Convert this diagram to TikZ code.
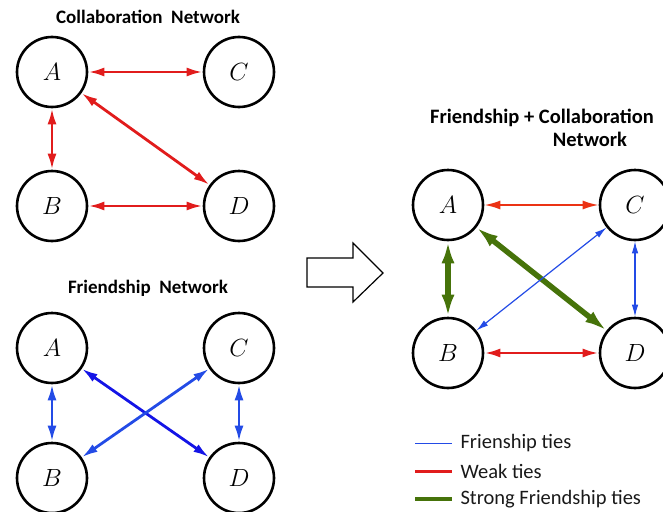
\documentclass[tikz,border=0pt]{standalone}
\usepackage{fontspec}
\setsansfont{Carlito}
\usetikzlibrary{arrows.meta}

\definecolor{weakred}{RGB}{225,28,28}
\definecolor{friendblue}{RGB}{35,75,230}
\definecolor{deepblue}{RGB}{20,20,230}
\definecolor{strongreen}{RGB}{70,115,10}

\tikzset{
  person/.style={circle, draw, line width=2.6pt, minimum size=70pt, inner sep=0pt,
    font=\fontsize{25}{29}\selectfont},
  title/.style={font=\sffamily\bfseries\fontsize{19}{22}\selectfont},
  bigtitle/.style={font=\sffamily\bfseries\fontsize{20.5}{24}\selectfont},
  legendtext/.style={anchor=west, text=black!90, font=\sffamily\fontsize{20.5}{24}\selectfont},
  weak/.style={draw=weakred, line width=2.8pt, >={Latex[length=16pt,width=9pt]}, <->},
  friend/.style={draw=friendblue, line width=2.8pt, >={Latex[length=16pt,width=9pt]}, <->},
  thinfriend/.style={draw=friendblue, line width=1.2pt, >={Latex[length=12pt,width=6.5pt]}, <->},
  strong/.style={draw=strongreen, line width=5.5pt, >={Latex[length=22pt,width=13pt]}, <->}
}

\begin{document}
\begin{tikzpicture}[x=1pt, y=-1pt]
    \useasboundingbox (0,0) rectangle (663,511);

    % Collaboration network
    \node[title] (ctitle) at (148,17) {Collaboration\ \ Network};
    \foreach \n/\x/\y in {A/52/72, C/239/72, B/52/206, D/239/206} {
        \node[person] (c\n) at (\x,\y) {$\n$};
    }
    \draw[weak] (cA) -- (cC);
    \draw[weak] (cA) -- (cB);
    \draw[weak] (cA) -- (cD);
    \draw[weak] (cB) -- (cD);

    % Friendship network
    \node[title] (ftitle) at (148,288) {Friendship\ \ Network};
    \foreach \n/\x/\y in {A/52/348, C/239/348, B/52/478, D/239/478} {
        \node[person] (f\n) at (\x,\y) {$\n$};
    }
    \draw[friend] (fA) -- (fB);
    \draw[friend] (fC) -- (fD);
    \draw[friend, draw=deepblue] (fA) -- (fD);
    \draw[friend] (fB) -- (fC);

    % Hollow arrow
    \draw[line width=1.2pt, line join=miter] (307,258) -- (353,258) -- (353,243) -- (383,273)
        -- (353,302) -- (353,287) -- (307,287) -- cycle;

    % Friendship + Collaboration network
    \node[bigtitle] (mtitle) at (542,118) {Friendship + Collaboration};
    \node[bigtitle] (mtitle2) at (590,139) {Network};
    \foreach \n/\x/\y in {A/448/205, C/635/205, B/448/353, D/635/353} {
        \node[person] (m\n) at (\x,\y) {$\n$};
    }
    \draw[weak, line width=2pt, draw={rgb,255:red,235;green,50;blue,20}] (mA) -- (mC);
    \draw[weak] (mB) -- (mD);
    \draw[strong] (mA) -- (mB);
    \draw[strong] (mA) -- (mD);
    \draw[thinfriend] (mB) -- (mC);
    \draw[thinfriend] (mC) -- (mD);

    % Legend
    \draw[friendblue, line width=1pt] (415,443) -- (452,443);
    \node[legendtext] (lfriend) at (457,443) {Frienship ties};
    \draw[weakred, line width=3pt] (415,471) -- (452,471);
    \node[legendtext] (lweak) at (457,471) {Weak ties};
    \draw[strongreen, line width=4.5pt] (415,499) -- (452,499);
    \node[legendtext] (lstrong) at (457,499) {Strong Friendship ties};
\end{tikzpicture}
\end{document}
